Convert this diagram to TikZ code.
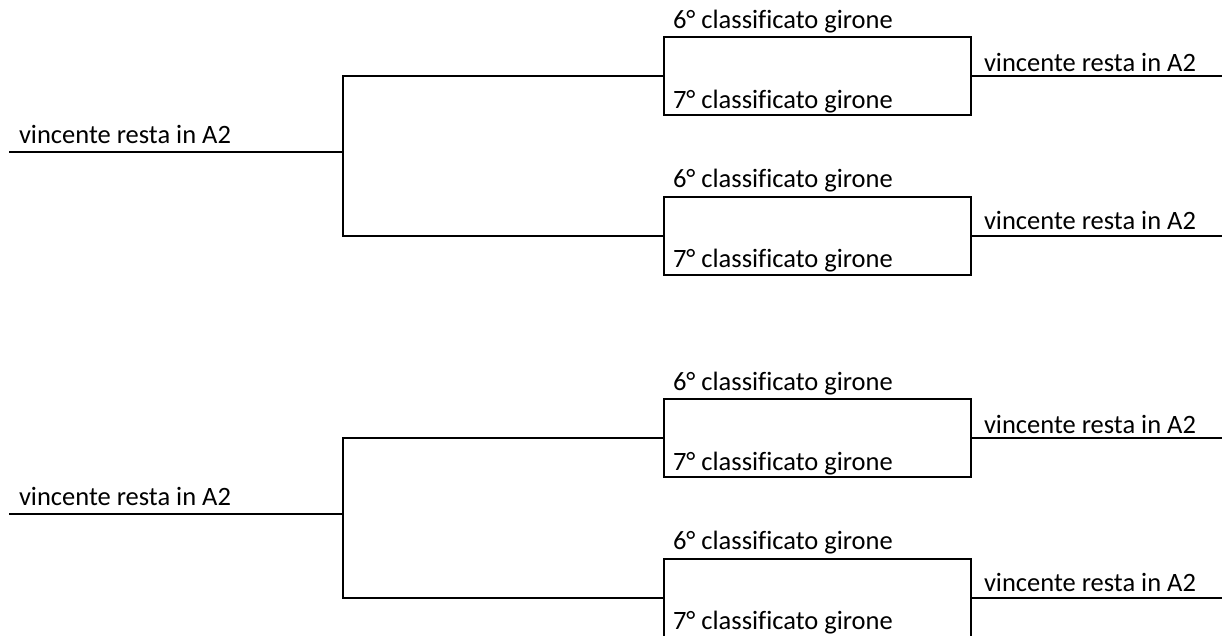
\documentclass[tikz,border=0pt]{standalone}
\usepackage{fontspec}
\setmainfont[Ligatures=NoCommon]{Carlito}
\begin{document}
\begin{tikzpicture}[x=1pt,y=-1pt,line width=2pt,
  matchbox/.style={draw,rectangle,minimum width=307pt,minimum height=78pt,inner sep=0pt},
  lbl/.style={anchor=base west,inner sep=0pt,font=\fontsize{26.5}{30}\selectfont}]
\useasboundingbox (0,0) rectangle (1222,635);
\clip (0,0) rectangle (1222,635);
\foreach \h/\o in {0/0,1/362}{
  \node[matchbox] (ba\h) at (817.5,76+\o) {};
  \node[matchbox] (bb\h) at (817.5,235.5+\o) {};
  \node[lbl] (sa\h) at (672,28+\o) {6° classificato girone};
  \node[lbl] (sb\h) at (672,108+\o) {7° classificato girone};
  \node[lbl] (sc\h) at (672,187+\o) {6° classificato girone};
  \node[lbl] (sd\h) at (672,267+\o) {7° classificato girone};
  \node[lbl] (wa\h) at (983,71+\o) {vincente resta in A2};
  \node[lbl] (wb\h) at (983,229+\o) {vincente resta in A2};
  \node[lbl] (wl\h) at (18,143+\o) {vincente resta in A2};
  \coordinate (ta\h) at (343,76+\o);
  \coordinate (tb\h) at (343,235.5+\o);
  \coordinate (ma\h) at (343,152+\o);
  \coordinate (st\h) at (9,152+\o);
  \coordinate (ra\h) at (1222,76+\o);
  \coordinate (rb\h) at (1222,235.5+\o);
  \draw (ba\h.west) -- (ta\h) -- (tb\h) -- (bb\h.west);
  \draw (st\h) -- (ma\h);
  \draw (ba\h.east) -- (ra\h);
  \draw (bb\h.east) -- (rb\h);
}
\end{tikzpicture}
\end{document}
